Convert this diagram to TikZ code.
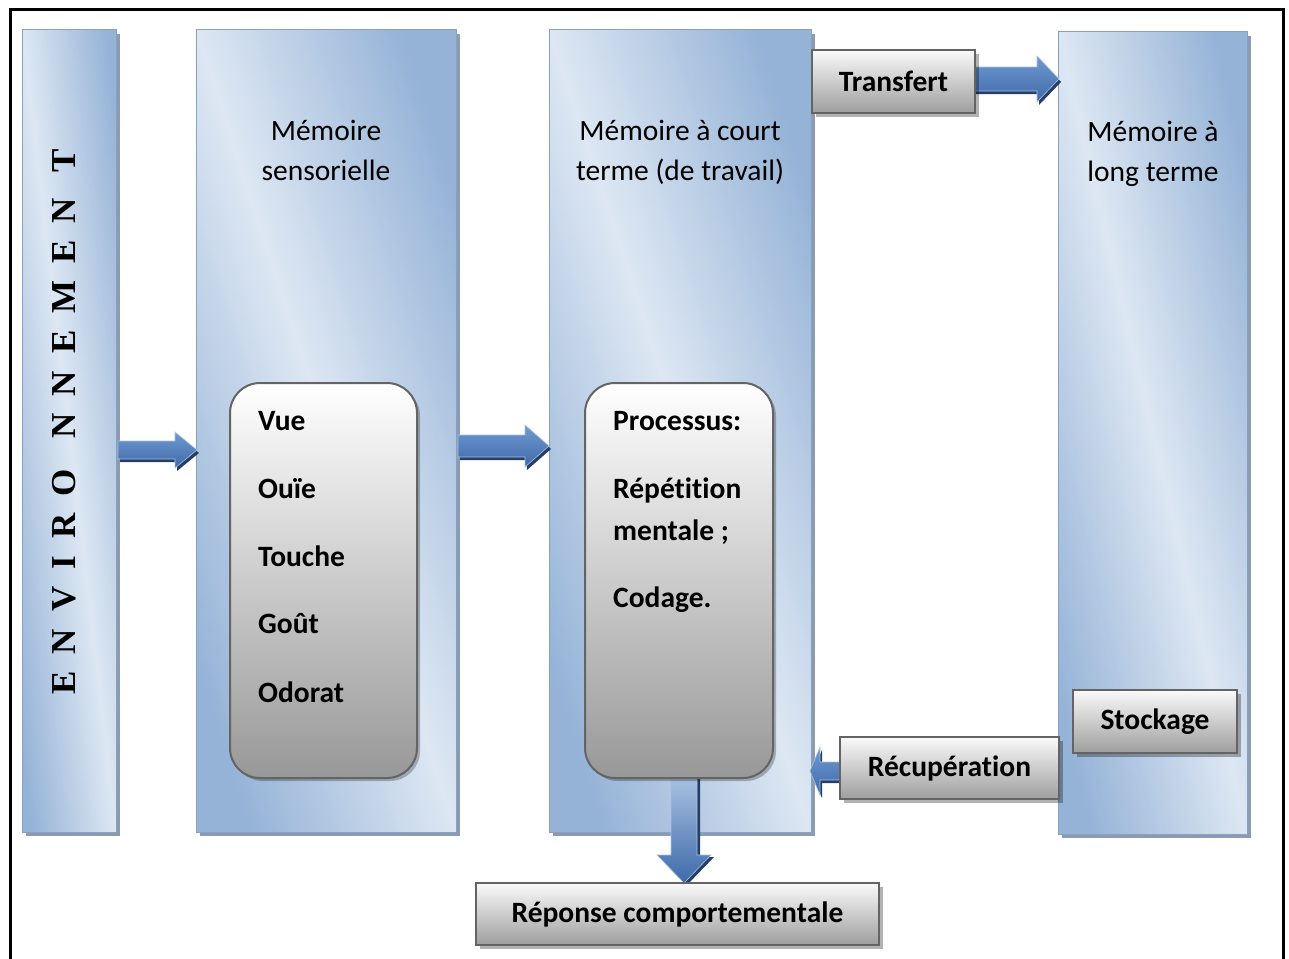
\documentclass[tikz,border=0pt]{standalone}
\usepackage{fontspec}
\setmainfont[Ligatures=NoCommon]{Carlito}
\newfontfamily\envfont{Liberation Serif}
\usetikzlibrary{shadows}
\definecolor{bdk}{RGB}{149,179,215}
\definecolor{blt}{RGB}{221,231,243}
\definecolor{colshadow}{RGB}{140,155,175}
\definecolor{arrtop}{RGB}{112,154,208}
\definecolor{arrbot}{RGB}{62,106,170}
\definecolor{arrsh}{RGB}{38,62,102}
\definecolor{grytop}{RGB}{250,250,250}
\definecolor{grybot}{RGB}{158,158,158}
\definecolor{innergray}{RGB}{152,152,152}
\definecolor{gryline}{RGB}{100,100,100}
\pgfdeclarehorizontalshading{colshade}{100bp}{color(0bp)=(bdk); color(25bp)=(bdk); color(50bp)=(blt); color(75bp)=(bdk); color(100bp)=(bdk)}
\newcommand\harrow[6]{% xs, xh, xt, yc, shaft half, head half
 \fill[arrsh] ({#1+2},{#4-#5+3}) -- ({#2+2},{#4-#5+3}) -- ({#2+2},{#4-#6+3}) -- ({#3+2},{#4+3}) -- ({#2+2},{#4+#6+3}) -- ({#2+2},{#4+#5+3}) -- ({#1+2},{#4+#5+3}) -- cycle;
 \path[arrbody] ({#1},{#4-#5}) -- ({#2},{#4-#5}) -- ({#2},{#4-#6}) -- ({#3},{#4}) -- ({#2},{#4+#6}) -- ({#2},{#4+#5}) -- ({#1},{#4+#5}) -- cycle;}
\newcommand\varrow[6]{% ys, yh, yt, xc, shaft half, head half
 \fill[arrsh] ({#4-#5+3},{#1+2}) -- ({#4-#5+3},{#2+2}) -- ({#4-#6+3},{#2+2}) -- ({#4+3},{#3+2}) -- ({#4+#6+3},{#2+2}) -- ({#4+#5+3},{#2+2}) -- ({#4+#5+3},{#1+2}) -- cycle;
 \path[arrbody, top color=arrtop!55!white] ({#4-#5},{#1}) -- ({#4-#5},{#2}) -- ({#4-#6},{#2}) -- ({#4},{#3}) -- ({#4+#6},{#2}) -- ({#4+#5},{#2}) -- ({#4+#5},{#1}) -- cycle;}
\begin{document}
\begin{tikzpicture}[x=1pt,y=-1pt,
  col/.style={shade, shading=colshade, shading angle=#1, draw=bdk!90!black, line width=1,
    drop shadow={shadow xshift=4pt, shadow yshift=-4pt, fill=colshadow, opacity=1},
    anchor=north west, inner sep=0pt, outer sep=0pt},
  innerbox/.style={rounded corners=30pt, top color=white, bottom color=innergray, draw=gryline, line width=2,
    drop shadow={shadow xshift=3pt, shadow yshift=-3pt, fill=black, opacity=0.25},
    anchor=north west, inner sep=0pt, outer sep=0pt},
  lbl/.style={top color=grytop, bottom color=grybot, draw=gryline, line width=1.5,
    drop shadow={shadow xshift=4pt, shadow yshift=-4pt, fill=black, opacity=0.3},
    font=\fontsize{29.5}{36}\selectfont\bfseries, inner sep=0pt, outer sep=0pt},
  arrbody/.style={top color=arrtop, bottom color=arrbot, draw=arrtop!60!white, line width=0.6},
  ttl/.style={font=\fontsize{29.5}{36}\selectfont, anchor=base, inner sep=0pt},
  itm/.style={font=\fontsize{29.5}{36}\selectfont\bfseries, anchor=base west, inner sep=0pt}
]
\path[use as bounding box] (0,0) rectangle (1289,958);
\clip (0,0) rectangle (1289,958);
\fill[white] (0,0) rectangle (1289,958);
% frame
\draw[line width=3] (10,965) -- (10,10) -- (1283,10) -- (1283,965);
% columns
\node[col=6.68, minimum width=94pt, minimum height=802pt] (env) at (22,30) {};
\node[col=17.96, minimum width=260pt, minimum height=802pt] (sens) at (196,30) {};
\node[col=18.09, minimum width=262pt, minimum height=802pt] (mct) at (549,30) {};
\node[col=13.26, minimum width=189pt, minimum height=802pt] (mlt) at (1058,32) {};
% environment text
\node[rotate=90, anchor=base, inner sep=0pt, font=\envfont\bfseries\fontsize{35}{35}\selectfont] (envt) at (75,422)
 {E\hspace{17pt}N\hspace{17pt}V\hspace{17pt}I\hspace{17pt}R\hspace{17pt}O\hspace{31pt}N\hspace{17pt}N\hspace{17pt}E\hspace{17pt}M\hspace{17pt}E\hspace{17pt}N\hspace{25pt}T};
% titles
\node[ttl] (s1) at (326,140) {Mémoire};
\node[ttl] (s2) at (326,180) {sensorielle};
\node[ttl] (c1) at (680,140) {Mémoire à court};
\node[ttl] (c2) at (680,180) {terme (de travail)};
\node[ttl] (l1) at (1153,141) {Mémoire à};
\node[ttl] (l2) at (1153,181) {long terme};
% arrows
\harrow{118}{175}{197}{450}{9}{18}
\harrow{458}{525}{549}{446}{11}{21}
\harrow{970}{1037}{1059}{79}{12}{23}
\harrow{845}{820}{810}{771}{9}{24}
\varrow{770}{855}{883}{684}{13}{27}
% inner boxes
\node[innerbox, minimum width=187pt, minimum height=395pt] (sbox) at (230,383) {};
\node[innerbox, minimum width=188pt, minimum height=395pt] (cbox) at (585,383) {};
\node[itm] (v1) at (258,430) {Vue};
\node[itm] (v2) at (258,498) {Ouïe};
\node[itm] (v3) at (258,566) {Touche};
\node[itm] (v4) at (258,633) {Goût};
\node[itm] (v5) at (258,702) {Odorat};
\node[itm] (p1) at (613,430) {Processus:};
\node[itm] (p2) at (613,498) {Répétition};
\node[itm] (p3) at (613,540) {mentale ;};
\node[itm] (p4) at (613,607) {Codage.};
% label boxes
\node[lbl, minimum width=163pt, minimum height=63pt] (tr) at (893.5,81.5) {Transfert};
\node[lbl, minimum width=164pt, minimum height=63pt] (st) at (1155,721.5) {Stockage};
\node[lbl, minimum width=219pt, minimum height=62pt] (rc) at (949.5,768) {Récupération};
\node[lbl, minimum width=403pt, minimum height=62pt] (rp) at (677.5,914) {Réponse comportementale};
\end{tikzpicture}
\end{document}
